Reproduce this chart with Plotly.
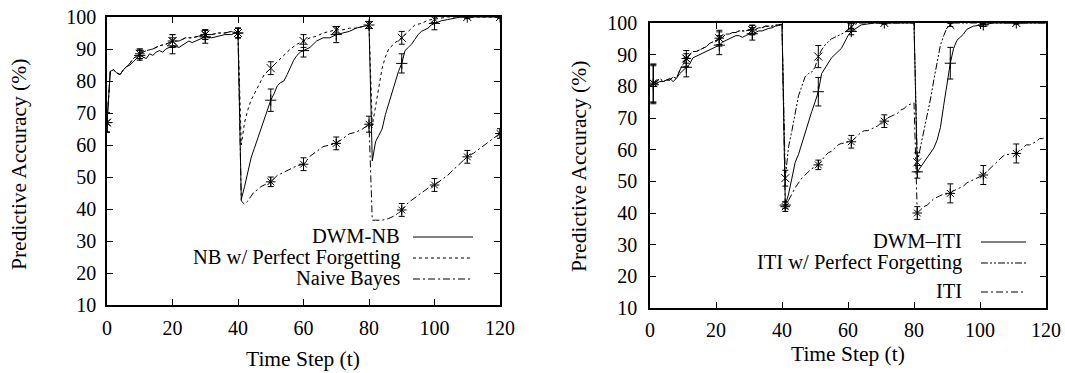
import plotly.graph_objects as go

W, H = 1065, 373
FONT = "Liberation Serif"

# ---------------- Left panel data (Naive Bayes) ----------------
t_dwm_nb = [0,1,2,3,4,5,6,7,8,10,12,13,14,15,16,17,18,20,22,24,25,26,28,30,32,34,36,38,39,40,
            41,42,43,44,45,46,47,48,49,50,51,52,53,54,55,56,57,58,59,60,62,64,66,68,70,72,74,76,78,80,
            81,82,83,84,85,86,87,88,89,90,91,92,93,94,95,96,97,98,99,100,102,104,106,108,110,115,120]
v_dwm_nb = [67,83,83.5,82.5,82,83.5,84.5,85,86,88,87,88.5,88,89,89.5,89,90,91,90.5,92,92.5,92,93,93.8,93.5,94,94.5,94.5,95,95,
            43,47,52,56,59,62,65,68,71,74,76,78.5,79.5,80,82,84.5,86.5,88,89,89.5,90.5,92.5,93.5,93.5,94.5,95,95.5,96.5,97,97.5,
            55,61,63,65,69.5,73,76.5,79.5,83,85.5,89.5,90.5,91.5,93,94.5,95.5,96,96.5,97.5,98,98.8,99.2,99.7,100,100,100,100]

t_pf_nb = [0,1,2,3,4,5,6,7,8,10,12,14,16,18,20,22,24,26,28,30,32,34,36,38,40,
           41,42,43,44,45,46,47,48,49,50,51,52,53,54,55,56,58,60,62,64,66,68,70,72,74,76,78,80,
           81,82,83,84,85,86,87,88,90,92,94,96,98,100,102,104,110,120]
v_pf_nb = [67,83,83.5,82.5,82,83.5,84.5,85.5,87,88.5,89.5,90,91,91.5,92.5,92.5,93.5,93.5,94,94.5,94.5,95,95,95.5,95,
           60,67,71,74,76,78,80.5,82,83,84,85,86,87,88,89,90,91.5,92.5,93.5,94,95,95.5,96,96,96.5,96.5,97,97.5,
           66,72,78,84,87.5,90,91,92,93.5,95.5,97.5,98,99,99.3,99.7,100,100,100]

t_nb = [0,1,2,3,4,5,6,7,8,10,12,14,16,18,20,22,24,26,28,30,32,34,36,38,40,
        41,42,43,44,45,46,47,48,50,52,54,56,58,60,62,64,66,68,70,72,74,76,78,80,
        81,82,84,86,88,90,92,94,96,98,100,102,104,106,108,110,112,114,116,118,120]
v_nb = [67,83,83.5,82.5,82,83.5,84.5,85.5,87,88.5,89.5,90,91,91.5,92.5,92.5,93.5,93.5,94,94.5,94.5,95,95,95.5,95,
        42.5,41.5,42.5,44,45.5,46,47,47.5,48.5,50.5,51.5,52.5,53.5,54,56.5,58,59.5,60,60.5,62,63.5,64,65,66.5,
        36.5,36.5,36.5,37,38,39.7,42,43.5,45,46.5,47.5,49,50.5,52.5,54.5,56.3,57.5,59,60.5,62,63.6]

mk_left = [0,10,20,30,40,50,60,70,80,90,100,110,120]
err_dwm_nb = [3,1.5,2.5,2,1.5,3.5,2,2.5,1,3,2,0.5,0.3]
err_pf_nb = [3,1.5,2,1.5,1.5,2,2,1,1,2,1,0.3,0.3]
err_nb = [3,1.5,2,1.5,1.5,1.5,2,2,2.5,2,2,2,1.5]

# ---------------- Right panel data (ITI) ----------------
t_dwm_iti = list(range(1, 41)) + list(range(41, 65)) + [66,68,70,71,72,74,76,78,80] + \
            list(range(81, 99)) + [100,101,102,104,110,111,120]
v_dwm_iti = [80.5,81,81.5,81.5,82,82.5,81.5,82.5,84,85,86,87,89,89.5,90,90.5,91,91.5,92,92.5,
             93,94,94.5,95,95.5,96,96,95.5,96,96.5,96.6,97,97.5,97.5,98,98.3,98.5,99,99.2,99.5,
             42.5,46,51,56,58.5,62,65,69,72,75,78.3,84,85.7,87.5,89,90,91,92,94,96,97.3,98,98.8,99.4,
             99.7,100,100,100,100,100,100,100,100,
             53,54.5,56,57.5,59,60.5,63,67,74,81,87.3,92,94.5,95.5,96.5,98,98.5,99,
             99.3,99.4,99.6,100,100,100,100]

t_pf_iti = list(range(1, 41)) + list(range(41, 64)) + [70,71,80] + list(range(81, 93)) + [100,101,110,111,120]
v_pf_iti = [81,81.5,82.5,81.5,82,82,83,82.5,85,87,88.8,90,91,91,91.5,92,92.5,93.5,94,94.5,
            95.2,95.5,96.5,96.5,97,97,97.5,97.5,97.5,97.8,97.8,98,98.5,98.5,99,99,99,99.3,99.5,99.6,
            51,61,66,72,77,80,83,84,84.5,86,89.4,91.5,93,94,95,95.5,96,96.3,97,98,98.8,99.5,100,
            100,100,100,
            56,61,65.5,71,76,82,88,93,96,98.5,99.4,100,
            100,100,100,100,100]

t_iti = list(range(1, 121))
v_iti = [81,81.5,82.5,81.5,82,82,83,82.5,85,87,88.8,90,91,91,91.5,92,92.5,93.5,94,94.5,
         95.2,95.5,96.5,96.5,97,97,97.5,97.5,97.5,97.8,97.8,98,98.5,98.5,99,99,99,99.3,99.5,99.6,
         42,44,46.5,48,49.5,51,52,53,54,54.5,55.2,56.5,58,59,59.5,60.5,61.5,62,62,62.5,
         62.5,63.5,64.5,65.5,66,66,66.5,67,67.5,68.5,69,70,70.5,71,71.5,72.5,73,74,74.5,74.8,
         40,41,42,42.5,43.5,44.5,45,45.5,46,46,46.2,47,47.5,48,48.5,49.5,50,50.5,51,51.5,
         52,53,54,55,56,57,58,58.5,58.5,58.8,58.8,59.5,60.5,61.5,61.5,62,62.5,63.5,63.5,64]

mk_right = [1,11,21,31,41,51,61,71,81,91,101,111]
err_dwm_iti = [6,3,3,2,1,4.5,1,0.3,2,5,0.5,0.3]
err_pf_iti = [6,2.5,2.5,1.5,2.5,3.5,1,0.3,3,0.5,0.3,0.3]
err_iti = [6,1.5,2,1.5,1.5,1.5,2,2,2,3,3,3]

for a, b in [(t_dwm_nb, v_dwm_nb), (t_pf_nb, v_pf_nb), (t_nb, v_nb),
             (t_dwm_iti, v_dwm_iti), (t_pf_iti, v_pf_iti), (t_iti, v_iti)]:
    assert len(a) == len(b), (len(a), len(b))

DASHDOTDOT = "7px,2px,2px,2px,2px,2px"
DASHDOT = "7px,3px,2px,3px"

fig = go.Figure()


def add_series(t, v, mk_t, err, dash, symbol, xa, ya):
    fig.add_trace(go.Scatter(x=t, y=v, mode="lines", xaxis=xa, yaxis=ya,
                             line=dict(color="black", width=1, dash=dash),
                             showlegend=False, hoverinfo="skip"))
    lookup = dict(zip(t, v))
    my = [lookup[k] for k in mk_t]
    fig.add_trace(go.Scatter(x=mk_t, y=my, mode="markers", xaxis=xa, yaxis=ya,
                             marker=dict(symbol=symbol, size=8, color="black",
                                         line=dict(color="black", width=1)),
                             error_y=dict(type="data", array=err, visible=True,
                                          color="black", thickness=1, width=3),
                             showlegend=False, hoverinfo="skip"))


add_series(t_dwm_nb, v_dwm_nb, mk_left, err_dwm_nb, "solid", "cross-thin-open", "x", "y")
add_series(t_pf_nb, v_pf_nb, mk_left, err_pf_nb, "dot", "x-thin-open", "x", "y")
add_series(t_nb, v_nb, mk_left, err_nb, DASHDOT, "asterisk-open", "x", "y")

add_series(t_dwm_iti, v_dwm_iti, mk_right, err_dwm_iti, "solid", "cross-thin-open", "x2", "y2")
add_series(t_pf_iti, v_pf_iti, mk_right, err_pf_iti, DASHDOTDOT, "x-thin-open", "x2", "y2")
add_series(t_iti, v_iti, mk_right, err_iti, DASHDOT, "asterisk-open", "x2", "y2")

tickfont = dict(family=FONT, size=20, color="black")
axcommon = dict(showline=True, linecolor="black", linewidth=1.5, mirror="allticks",
                ticks="inside", ticklen=6, tickwidth=1.2, tickcolor="black",
                showgrid=False, zeroline=False, tickfont=tickfont, automargin=False,
                ticklabeloverflow="allow")


def px_x(p):
    return p / W


def px_y(p):
    return 1 - p / H


fig.update_layout(
    width=W, height=H,
    margin=dict(l=0, r=0, t=0, b=0),
    paper_bgcolor="white", plot_bgcolor="white",
    showlegend=False,
    xaxis=dict(domain=[px_x(107), px_x(500)], range=[0, 120], dtick=20, anchor="y",
               ticklabelstandoff=4, **axcommon),
    yaxis=dict(domain=[px_y(305), px_y(17)], range=[10, 100], dtick=10, anchor="x",
               ticklabelstandoff=5, **axcommon),
    xaxis2=dict(domain=[px_x(650), px_x(1046)], range=[0, 120], dtick=20, anchor="y2",
                ticklabelstandoff=3, **axcommon),
    yaxis2=dict(domain=[px_y(308), px_y(23)], range=[10, 100], dtick=10, anchor="x2",
                ticklabelstandoff=7, **axcommon),
)

annots = []
titlefont = dict(family=FONT, size=21.5, color="black")
annots.append(dict(text="Predictive Accuracy (%)", x=px_x(19), y=px_y(165), xref="paper", yref="paper",
                   textangle=-90, showarrow=False, font=titlefont, xanchor="center", yanchor="middle"))
annots.append(dict(text="Predictive Accuracy (%)", x=px_x(579), y=px_y(167), xref="paper", yref="paper",
                   textangle=-90, showarrow=False, font=titlefont, xanchor="center", yanchor="middle"))
annots.append(dict(text="Time Step (t)", x=px_x(303), y=px_y(359), xref="paper", yref="paper",
                   showarrow=False, font=titlefont, xanchor="center", yanchor="middle"))
annots.append(dict(text="Time Step (t)", x=px_x(848), y=px_y(354), xref="paper", yref="paper",
                   showarrow=False, font=titlefont, xanchor="center", yanchor="middle"))

# legends (text right-aligned, sample line to the right)
legfont = dict(family=FONT, size=20.5, color="black")
leg_left = [("DWM-NB", "solid", 236), ("NB w/ Perfect Forgetting", "dot", 257), ("Naive Bayes", DASHDOT, 278)]
leg_right = [("DWM\u2013ITI", "solid", 241), ("ITI w/ Perfect Forgetting", DASHDOTDOT, 262), ("ITI", DASHDOT, 291)]
shapes = []
for txt, dash, yy in leg_left:
    annots.append(dict(text=txt, x=px_x(401), y=px_y(yy), xref="paper", yref="paper", showarrow=False,
                       font=legfont, xanchor="right", yanchor="middle", borderpad=0))
    shapes.append(dict(type="line", xref="paper", yref="paper", x0=px_x(413), x1=px_x(473),
                       y0=px_y(yy + 1), y1=px_y(yy + 1), line=dict(color="black", width=1, dash=dash)))
for txt, dash, yy in leg_right:
    annots.append(dict(text=txt, x=px_x(963), y=px_y(yy), xref="paper", yref="paper", showarrow=False,
                       font=legfont, xanchor="right", yanchor="middle", borderpad=0))
    shapes.append(dict(type="line", xref="paper", yref="paper", x0=px_x(981), x1=px_x(1026),
                       y0=px_y(yy + 1), y1=px_y(yy + 1), line=dict(color="black", width=1, dash=dash)))

fig.update_layout(annotations=annots, shapes=shapes)
# remove the browser's default 8px body margin so the figure fills the window exactly
fig.write_html("out.html", config={"displayModeBar": False},
               post_script="document.body.style.margin='0';document.body.style.overflow='hidden';")
